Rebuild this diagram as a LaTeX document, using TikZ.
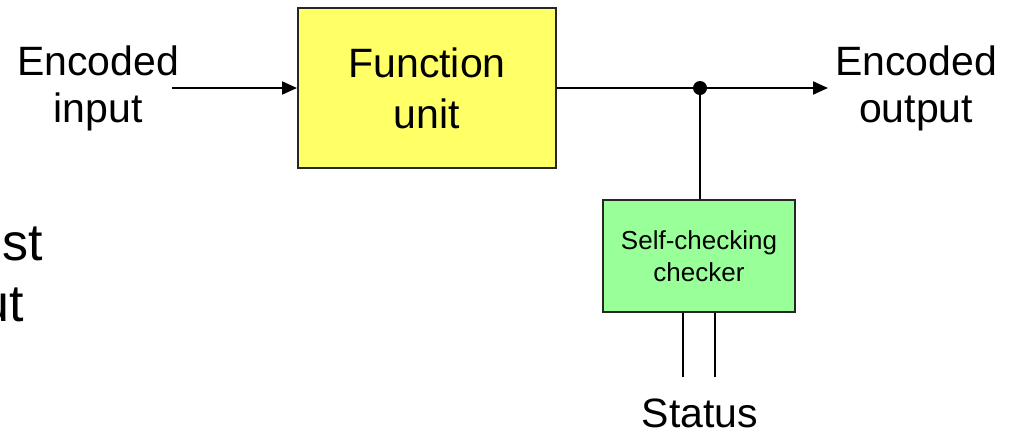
\documentclass[tikz,border=0pt]{standalone}
\usepackage{fontspec}
\setmainfont{Liberation Sans}
\usetikzlibrary{arrows.meta}
\definecolor{fyellow}{HTML}{FFFF66}
\definecolor{cgreen}{HTML}{99FF99}
\tikzset{
  wire/.style={line width=2pt, draw=black},
  arr/.style={wire, -{Triangle[length=15pt,width=13pt]}},
  blockbox/.style={draw=black!85, line width=2pt, inner sep=0pt, align=center},
  bigtext/.style={inner sep=0pt, align=center, font=\fontsize{41}{47}\selectfont},
}
\begin{document}
\begin{tikzpicture}[x=1pt,y=-1pt]
\useasboundingbox (0,0) rectangle (1016,432);
% partial slide text at left edge
\node[inner sep=0pt, anchor=base east, font=\fontsize{52}{60}\selectfont] (st) at (43,260) {st};
\node[inner sep=0pt, anchor=base east, font=\fontsize{52}{60}\selectfont] (ut) at (24,321) {ut};
% labels
\node[bigtext] (in) at (98,88) {Encoded\\input};
\node[bigtext] (out) at (916,88) {Encoded\\output};
% blocks
\node[blockbox, fill=fyellow, minimum width=258pt, minimum height=160pt, font=\fontsize{41}{51}\selectfont] (fu) at (427,88) {Function\\unit};
\node[blockbox, fill=cgreen, minimum width=192pt, minimum height=112pt, font=\fontsize{26}{32}\selectfont] (chk) at (699,256) {Self-checking\\checker};
\node[bigtext] (status) at (700,413) {Status};
% connectors
\coordinate (inR) at (172,88);
\coordinate (outL) at (828,88);
\coordinate (tap) at (700,88);
\coordinate (s1) at (683,377);
\coordinate (s2) at (715,377);
\draw[arr] (inR) -- (fu.west);
\draw[arr] (fu.east) -- (outL);
\draw[wire] (tap) -- (tap |- chk.north);
\fill (tap) circle (7pt);
\draw[wire] (s1 |- chk.south) -- (s1);
\draw[wire] (s2 |- chk.south) -- (s2);
\end{tikzpicture}
\end{document}
